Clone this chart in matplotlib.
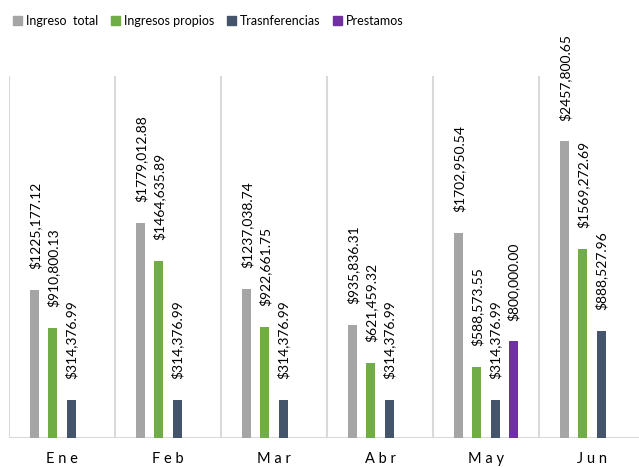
import matplotlib
matplotlib.use("Agg")
import matplotlib.pyplot as plt
from matplotlib.patches import Patch
import numpy as np

categories = ["E n e", "F e b", "M a r", "A b r", "M a y", "J u n"]
series_names = ["Ingreso  total", "Ingresos propios", "Trasnferencias", "Prestamos"]
ingreso_total = [1225177.12, 1779012.88, 1237038.74, 935836.31, 1702950.54, 2457800.65]
ingresos_propios = [910800.13, 1464635.89, 922661.75, 621459.32, 588573.55, 1569272.69]
transferencias = [314376.99, 314376.99, 314376.99, 314376.99, 314376.99, 888527.96]
prestamos = [0, 0, 0, 0, 800000.00, 0]
colors = ["#a5a5a5", "#70ad47", "#44546a", "#7030a0"]


def fmt(v):
    thousands = int(v) // 1000
    rest = f"{v:,.2f}".rsplit(",", 1)[1]
    return f"${thousands},{rest}"


W, H = 639, 467
fig = plt.figure(figsize=(W / 100, H / 100), dpi=100)
# plot area: x 9..645 px, y 76..438 px
ax = fig.add_axes([9 / W, (H - 438) / H, 636 / W, 362 / H])
ax.set_xlim(-0.5, 5.5)
ax.set_ylim(0, 3000000)

font = ["Lato", "DejaVu Sans"]
x = np.arange(len(categories))
bw = 9 / 106
offsets = [-0.255, -0.085, 0.085, 0.255]
all_series = [ingreso_total, ingresos_propios, transferencias, prestamos]
for s, vals in enumerate(all_series):
    for i, v in enumerate(vals):
        if v <= 0:
            continue
        xi = x[i] + offsets[s]
        ax.bar(xi, v, width=bw, color=colors[s], zorder=3)
        ax.annotate(fmt(v), (xi, v), xytext=(0, 15), textcoords="offset points",
                    rotation=90, ha="center", va="bottom", fontsize=10,
                    family=font, color="#000000")

for b in np.arange(-0.5, 6.0, 1.0):
    ax.axvline(b, color="#d9d9d9", lw=1.5, zorder=1)
ax.axhline(0, color="#d9d9d9", lw=1.5, zorder=2)

for sp in ax.spines.values():
    sp.set_visible(False)
ax.set_yticks([])
ax.set_xticks(x)
ax.set_xticklabels(categories, family=font, fontsize=10.5, color="#000000")
ax.tick_params(axis="x", length=0, pad=10)

handles = [Patch(color=c, label=n) for c, n in zip(colors, series_names)]
fig.legend(handles=handles, loc="upper left", bbox_to_anchor=(8 / W, 1 - 10 / H),
           ncol=4, frameon=False, prop={"family": font, "size": 9},
           handlelength=0.75, handleheight=0.75, handletextpad=0.3,
           columnspacing=1.0, borderaxespad=0)

fig.savefig("out.png", dpi=100)
